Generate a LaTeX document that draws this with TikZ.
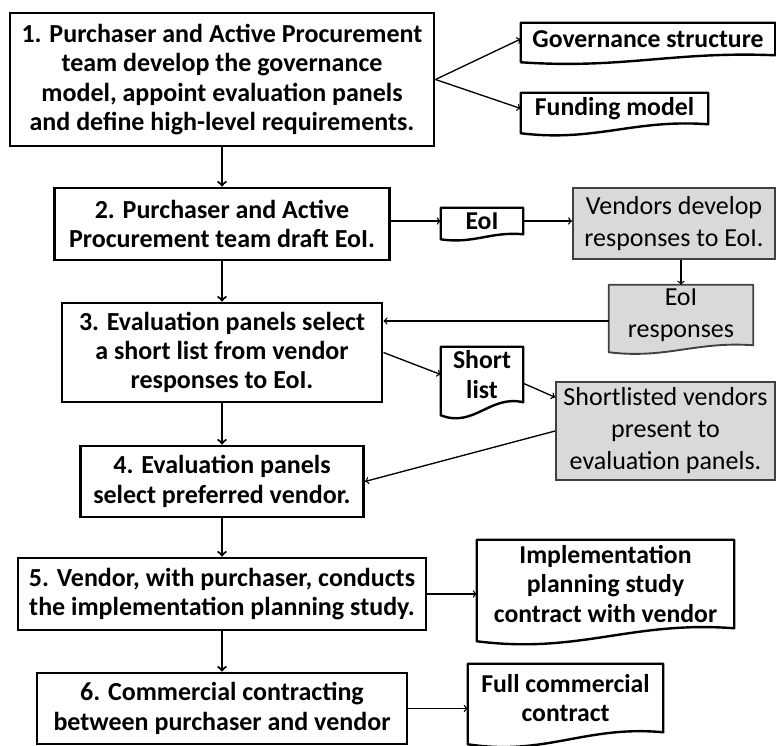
\documentclass[tikz,border=0pt]{standalone}
\usepackage{fontspec}
\setmainfont{Carlito}
\usetikzlibrary{calc}
\definecolor{c1}{RGB}{217,217,217}
\definecolor{c2}{RGB}{64,64,64}
\tikzstyle{flow chart}=[
    x=0.75pt, y=-0.75pt,
    size/.style 2 args={minimum width=##1*0.75pt, minimum height=##2*0.75pt},
    stage/.style={draw, line width=2.2pt, align=center, inner sep=0pt,
        font={\fontsize{19.5}{22}\selectfont\bfseries}},
    doc/.style={align=center, inner sep=0pt,
        font={\fontsize{19.3}{22}\selectfont\bfseries}},
    plain text/.style={font={\fontsize{19.5}{24}\selectfont}},
    vendor box/.style={draw=c2, fill=c1, line width=1.4pt, align=center, inner sep=0pt, plain text},
    doc frame/.style={draw, fill=white, line width=1.8pt, line join=round},
    flow/.style={->, line width=1.6pt},
    link/.style={->, line width=1pt},
]
\pgfdeclarelayer{background}
\pgfsetlayers{background,main}
\newcommand{\docframe}[3][]{
    \begin{pgfonlayer}{background}
    \path[doc frame,#1] (#2.north west) -- (#2.north east) -- (#2.south east)
        .. controls ($(#2.south west)!0.6!(#2.south east)+(0,-0.6*#3)$)
        and ($(#2.south west)!0.4!(#2.south east)+(0,2*#3)$)
        .. ($(#2.south west)+(0,#3)$) -- cycle;
    \end{pgfonlayer}
}

\begin{document}
\begin{tikzpicture}[flow chart]
    \useasboundingbox (0,0) rectangle (776,746);

    % main steps
    \node[stage, size={424}{133}] (s1) at (222,79.5) {1. Purchaser and Active Procurement\\team develop the governance\\model, appoint evaluation panels\\and define high-level requirements.};
    \node[stage, size={335}{72}] (s2) at (222,224) {2. Purchaser and Active\\Procurement team draft EoI.};
    \node[stage, size={320}{99}] (s3) at (222,352.5) {3. Evaluation panels select\\a short list from vendor\\responses to EoI.};
    \node[stage, size={283}{71}] (s4) at (222,481.5) {4. Evaluation panels\\select preferred vendor.};
    \node[stage, size={408}{72}] (s5) at (222,594) {5. Vendor, with purchaser, conducts\\the implementation planning study.};
    \node[stage, size={370}{71}] (s6) at (222,708.5) {6. Commercial contracting\\between purchaser and vendor};

    % documents
    \node[doc, size={254}{32}] (gov) at (648,39) {Governance structure};
    \node[doc, size={187}{31}] (fund) at (614.5,108.5) {Funding model};
    \node[doc, size={82}{26}] (eoi) at (482,221) {EoI};
    \node[doc, plain text, size={144}{60}] (eoir) at (681,315) {EoI\\responses};
    \node[doc, size={82}{55}] (sl) at (482,374.5) {Short\\list};
    \node[doc, size={257}{88}] (impl) at (605.5,584) {Implementation\\planning study\\contract with vendor};
    \node[doc, size={195}{68}] (full) at (565.5,698) {Full commercial\\contract};
    \docframe{gov}{7}
    \docframe{fund}{9}
    \docframe{eoi}{5}
    \docframe[fill=c1, draw=c2, line width=1.4pt]{eoir}{7}
    \docframe{sl}{13}
    \docframe{impl}{13}
    \docframe{full}{12}

    % vendor activities
    \node[vendor box, size={202}{71}] (vend) at (674,223.5) {Vendors develop\\responses to EoI.};
    \node[vendor box, size={219}{98}] (slv) at (665.5,431) {Shortlisted vendors\\present to\\evaluation panels.};

    \coordinate (r3) at ([yshift=-4.5pt]eoir.west);

    \draw[flow] (s1) -- (s2);
    \draw[flow] (s2) -- (s3);
    \draw[flow] (s3) -- (s4);
    \draw[flow] (s4) -- (s5);
    \draw[flow] (s5) -- (s6);

    \draw[link] (s1.east) -- (gov.west);
    \draw[link] (s1.east) -- (fund.west);
    \draw[link] (eoi.west -| s2.east) -- (eoi.west);
    \draw[link] (eoi.east) -- (eoi.east -| vend.west);
    \draw[link] (vend.south -| eoir.north) -- (eoir.north);
    \draw[link] (r3) -- (r3 -| s3.east);
    \draw[link] (s3.east) -- (sl.west);
    \draw[link] (sl.-12) -- (slv.163);
    \draw[link] (slv.west) -- (s4.east);
    \draw[link] (s5.east) -- (s5.east -| impl.west);
    \draw[link] (s6.east) -- (s6.east -| full.west);
\end{tikzpicture}
\end{document}
